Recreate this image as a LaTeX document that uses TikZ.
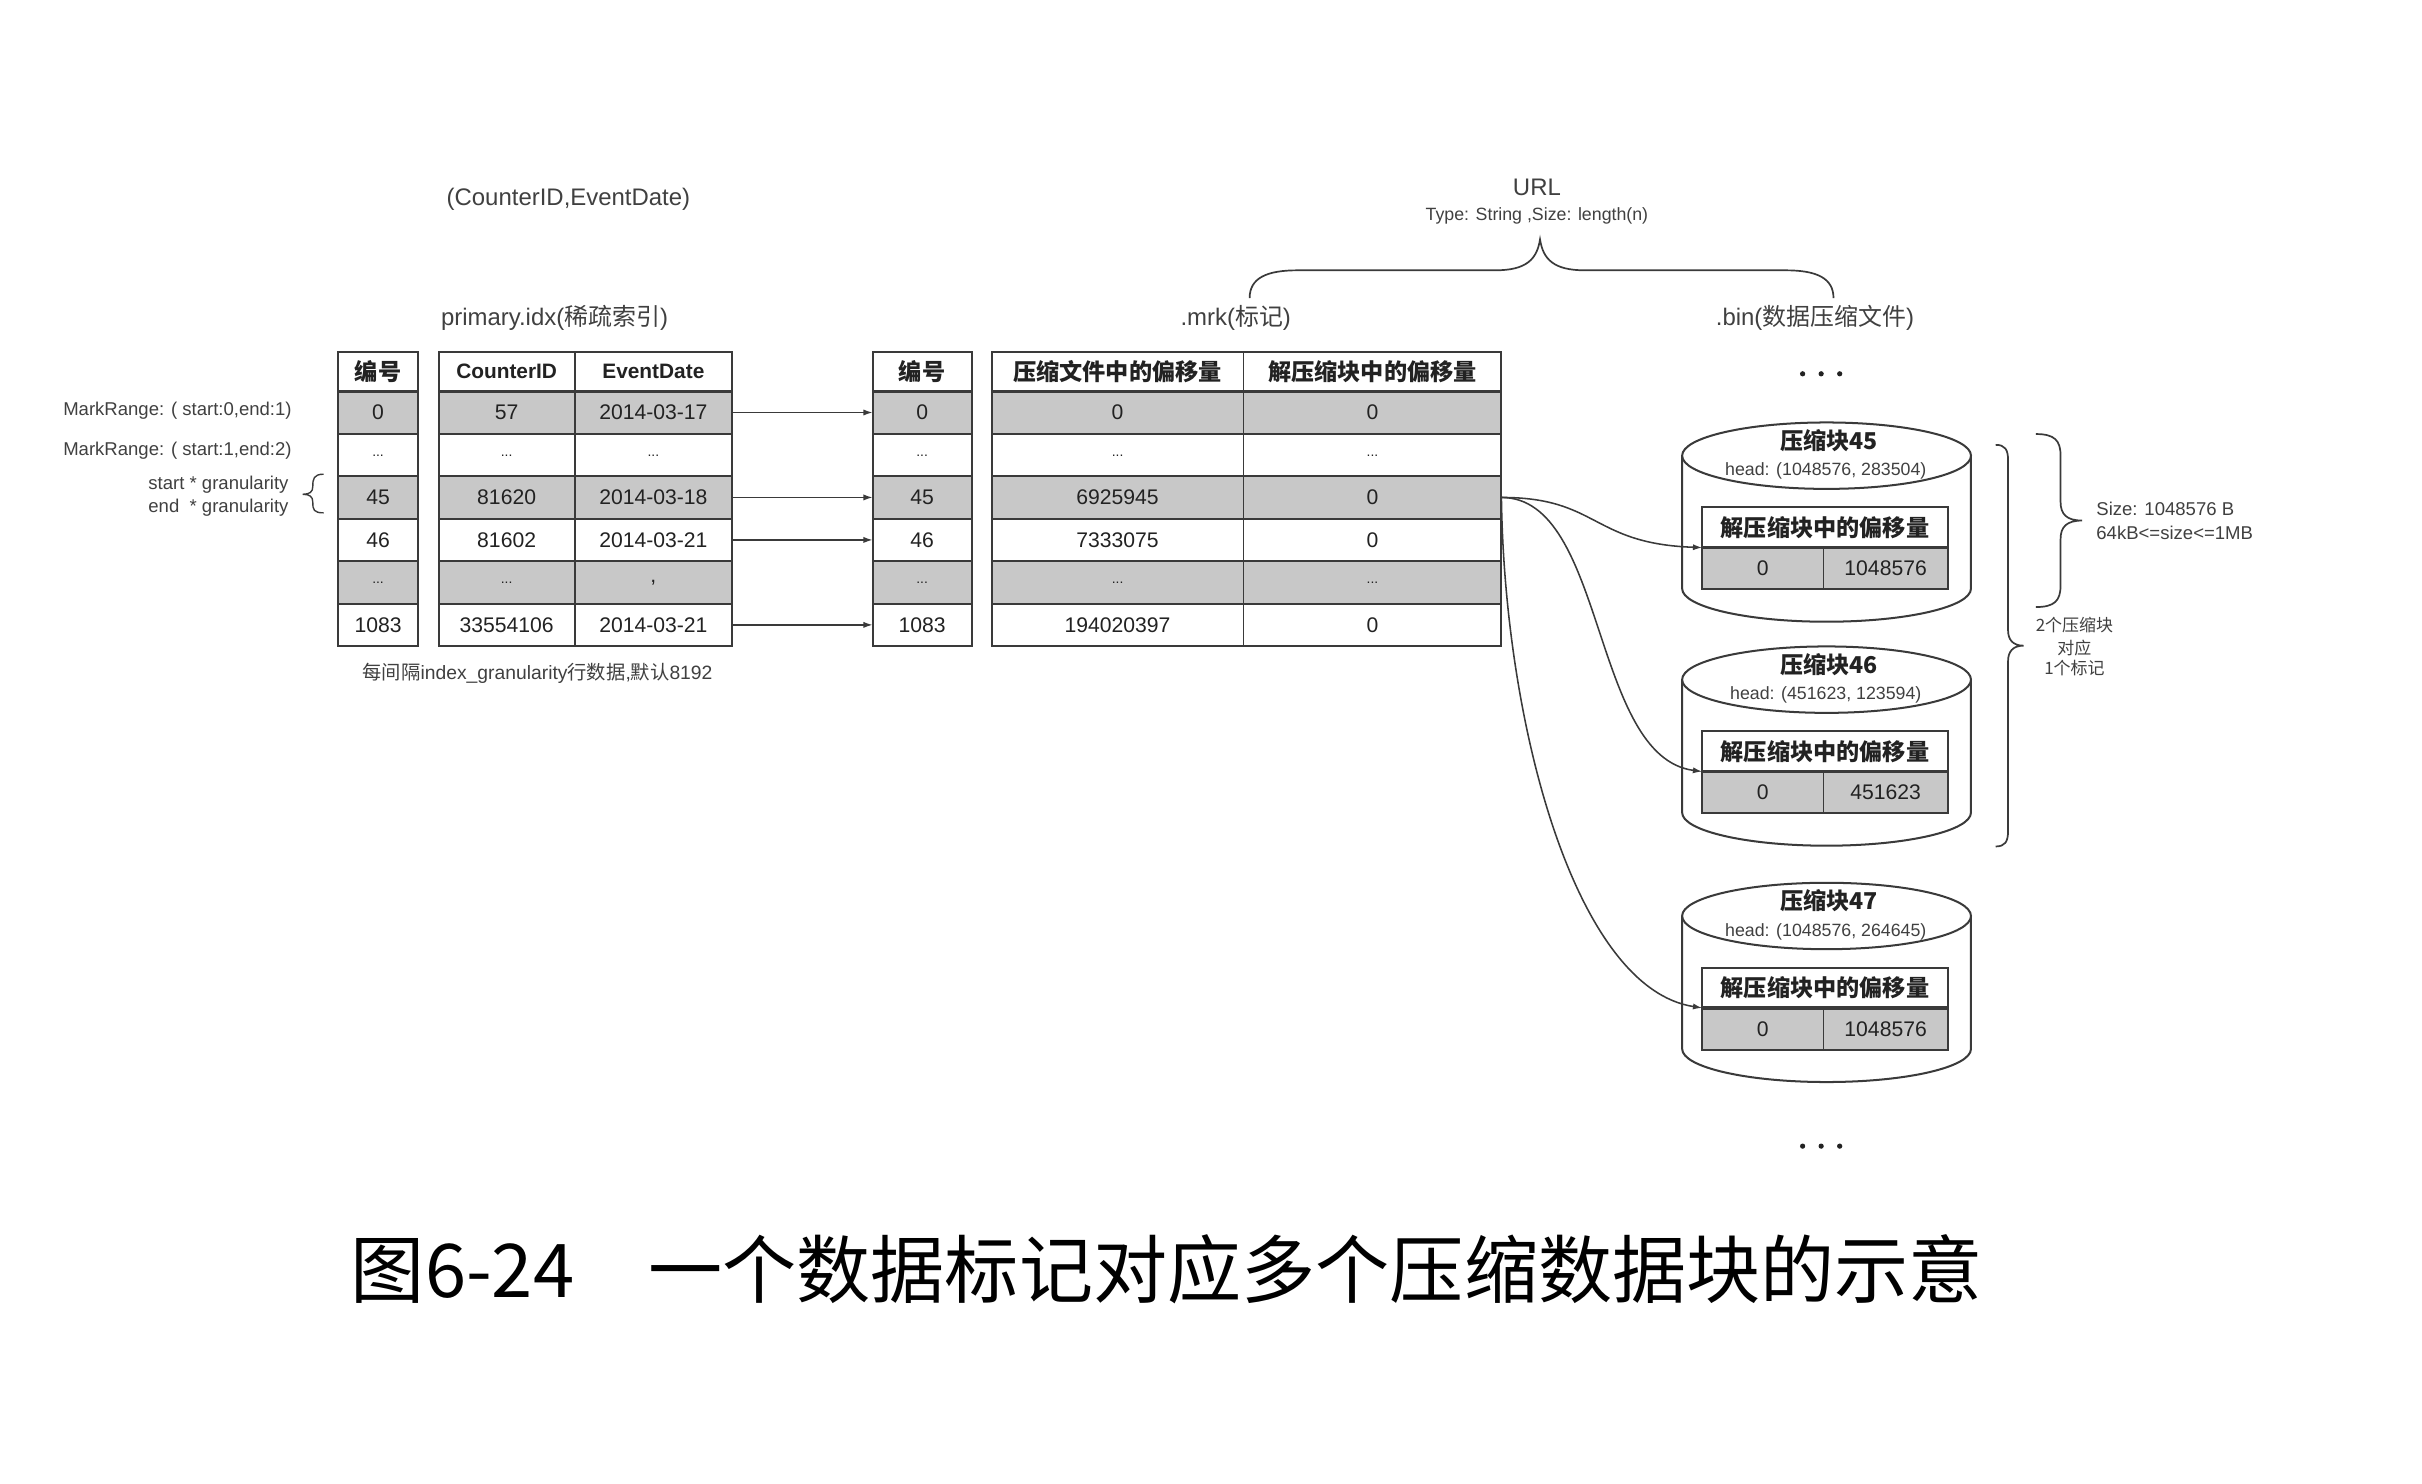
\documentclass[tikz,border=0pt]{standalone}
\usepackage{fontspec}
\setmainfont{Liberation Sans}
\newfontfamily\cjk{Noto Sans CJK SC}
\usetikzlibrary{arrows.meta}
\definecolor{linecol}{HTML}{3A3A3A}
\definecolor{rowgray}{RGB}{200,200,200}
\definecolor{txtcol}{HTML}{222222}
\definecolor{labcol}{HTML}{404040}
\newcommand\fsz[1]{\fontsize{#1}{#1}\selectfont}
\newcommand\tdots{\raisebox{-1.5pt}{\fsz{9}...}}
\newcommand\tcomma{,}
\tikzset{
 cell/.style={draw=linecol, line width=1.2pt, inner sep=0pt, outer sep=0pt, minimum height=27.5pt, text=txtcol, font=\fsz{13.7}},
 hcell/.style={cell, minimum height=25.3pt, font=\fsz{13.5}\bfseries},
 icell/.style={cell, minimum height=27pt},
 cylline/.style={draw=linecol, line width=1.3pt},
 conn/.style={draw=linecol, line width=1pt, -{Latex[length=6pt,width=4pt]}},
 lab/.style={text=labcol, font=\fsz{12}, inner sep=0pt},
 toplab/.style={text=labcol, font=\fsz{15.5}, inner sep=0pt},
 cyltitle/.style={text=txtcol, font=\fsz{15}\cjk\bfseries, inner sep=0pt},
 cylhead/.style={text=labcol, font=\fsz{11.5}, inner sep=0pt},
 bracel/.style={draw=linecol, line width=1.1pt},
}
\newcommand\mkcyl[5]{%
  \fill[white] (1089,#2) -- (1089,{#2+86}) arc[start angle=180,end angle=360,x radius=93.5pt,y radius=21.5pt] -- (1276,#2) -- cycle;
  \draw[cylline] (1089,#2) -- (1089,{#2+86}) arc[start angle=180,end angle=360,x radius=93.5pt,y radius=21.5pt] -- (1276,#2);
  \draw[cylline, fill=white] (1182.5,#2) ellipse[x radius=93.5pt,y radius=21.5pt];
  \node[cyltitle] (#1-t) at (1184,{#2-10}) {#3};
  \node[cylhead] (#1-hd) at (1182,{#2+10}) {#4};
  \node[icell, minimum width=159pt, minimum height=26pt] (#1-h) at (1181.5,{#2+46.5}) {\fsz{15}\cjk\bfseries 解压缩块中的偏移量};
  \node[icell, minimum width=78.5pt, fill=rowgray] (#1-a) at (1141.25,{#2+73}) {0};
  \node[icell, minimum width=80.5pt, fill=rowgray] (#1-b) at (1220.75,{#2+73}) {#5};
  \draw[linecol, line width=2.2pt] (#1-h.south west) -- (#1-h.south east);
}
\begin{document}
\begin{tikzpicture}[x=1pt,y=-1pt]
\useasboundingbox[fill=white] (0,0) rectangle (1568,960.7);

% top labels
\node[toplab] (ce) at (368,129) {(CounterID,EventDate)};
\node[toplab] (url) at (995,121) {URL};
\node[lab, font=\fsz{11.5}] (urltype) at (995,140) {Type: String ,Size: length(n)};
\node[toplab] (pidx) at (359,206) {primary.idx({\cjk 稀疏索引})};
\node[toplab] (mrk) at (800,206) {.mrk({\cjk 标记})};
\node[toplab] (bin) at (1175,206) {.bin({\cjk 数据压缩文件})};
\draw[bracel] (809,193) .. controls (809,180) and (820,175) .. (840,175) -- (968,175) .. controls (988,175) and (995,168) .. (997,155) .. controls (999,168) and (1006,175) .. (1026,175) -- (1156,175) .. controls (1176,175) and (1187,180) .. (1187,193);

% headers
\node[hcell, minimum width=51.5pt] (ta-h) at (244.75,240.65) {\fsz{15}\cjk 编号};
\node[hcell, minimum width=88pt] (tb-h1) at (328,240.65) {CounterID};
\node[hcell, minimum width=102pt] (tb-h2) at (423,240.65) {EventDate};
\node[hcell, minimum width=64pt] (tc-h) at (597,240.65) {\fsz{15}\cjk 编号};
\node[hcell, minimum width=163pt] (td-h1) at (723.5,240.65) {\fsz{15}\cjk 压缩文件中的偏移量};
\node[hcell, minimum width=167pt] (td-h2) at (888.5,240.65) {\fsz{15}\cjk 解压缩块中的偏移量};

\foreach \i/\a/\f in {0/0/rowgray,1/\tdots/white,2/45/rowgray,3/46/white,4/\tdots/rowgray,5/1083/white}{
  \node[cell, minimum width=51.5pt, fill=\f] (ta-\i) at (244.75,{267.05+27.5*\i}) {\a};
  \node[cell, minimum width=64pt, fill=\f] (tc-\i) at (597,{267.05+27.5*\i}) {\a};
}
\foreach \i/\a/\b/\f in {0/57/2014-03-17/rowgray,1/\tdots/\tdots/white,2/81620/2014-03-18/rowgray,3/81602/2014-03-21/white,4/\tdots/\tcomma/rowgray,5/33554106/2014-03-21/white}{
  \node[cell, minimum width=88pt, fill=\f] (tb-\i-1) at (328,{267.05+27.5*\i}) {\a};
  \node[cell, minimum width=102pt, fill=\f] (tb-\i-2) at (423,{267.05+27.5*\i}) {\b};
}
\foreach \i/\a/\b/\f in {0/0/0/rowgray,1/\tdots/\tdots/white,2/6925945/0/rowgray,3/7333075/0/white,4/\tdots/\tdots/rowgray,5/194020397/0/white}{
  \node[cell, minimum width=163pt, fill=\f] (td-\i-1) at (723.5,{267.05+27.5*\i}) {\a};
  \node[cell, minimum width=167pt, fill=\f] (td-\i-2) at (888.5,{267.05+27.5*\i}) {\b};
}
\foreach \n in {ta-h,tb-h1,tb-h2,tc-h,td-h1,td-h2}
  \draw[linecol, line width=2.2pt] (\n.south west) -- (\n.south east);

\foreach \i in {0,2,3,5}
  \draw[conn] (tb-\i-2.east) -- (tc-\i.west);

% left labels
\node[lab, anchor=east] (mr1) at (189,266) {MarkRange: ( start:0,end:1)};
\node[lab, anchor=east] (mr2) at (189,292) {MarkRange: ( start:1,end:2)};
\node[lab, anchor=east] (sg) at (187,313.7) {start * granularity};
\node[lab, anchor=east] (eg) at (187,328.8) {\rlap{end}\phantom{start} * granularity};
\draw[bracel, line width=0.9pt] (209.5,307) .. controls (203,307) and (202.5,310) .. (202.5,315) .. controls (202.5,318.5) and (200.5,320) .. (196,320) .. controls (200.5,320) and (202.5,321.5) .. (202.5,325) .. controls (202.5,330) and (203,332) .. (209.5,332);
\node[lab, font=\fsz{12.5}] (note) at (348,436) {{\cjk 每间隔}index\_granularity{\cjk 行数据},{\cjk 默认}8192};

% cylinders
\mkcyl{c45}{295}{压缩块45}{head: (1048576, 283504)}{1048576}
\mkcyl{c46}{440}{压缩块46}{head: (451623, 123594)}{451623}
\mkcyl{c47}{593}{压缩块47}{head: (1048576, 264645)}{1048576}

% connectors mrk -> blocks
\draw[conn] (td-2-2.east) .. controls (1035,322) and (1030,352) .. (c45-a.north west);
\draw[conn] (td-2-2.east) .. controls (1040,322) and (1030,490) .. (c46-a.north west);
\draw[conn] (td-2-2.east) .. controls (974,470) and (1020,640) .. (c47-a.north west);

% dots
\foreach \x in {1167,1179,1191}{
  \fill[txtcol] (\x,242) circle[radius=1.7pt];
  \fill[txtcol] (\x,742) circle[radius=1.7pt];
}

% right braces and labels
\draw[bracel] (1318,281) .. controls (1330,281) and (1334,285) .. (1334,295) -- (1334,325) .. controls (1334,333) and (1338,337) .. (1348,337) .. controls (1338,337) and (1334,341) .. (1334,349) -- (1334,379) .. controls (1334,389) and (1330,393) .. (1318,393);
\node[lab, anchor=west] (sz1) at (1357,329.5) {Size: 1048576 B};
\node[lab, anchor=west] (sz2) at (1357,345) {64kB<=size<=1MB};
\draw[bracel] (1292,288) .. controls (1298,288) and (1300,291) .. (1300,298) -- (1300,408) .. controls (1300,414) and (1303,418) .. (1310,418) .. controls (1303,418) and (1300,422) .. (1300,428) -- (1300,538) .. controls (1300,545) and (1298,548) .. (1292,548);
\node[lab, font=\fsz{11}\cjk] (n2a) at (1343,404.5) {2个压缩块};
\node[lab, font=\fsz{11}\cjk] (n2b) at (1343,419.5) {对应};
\node[lab, font=\fsz{11}\cjk] (n2c) at (1343,432.5) {1个标记};

% caption
\node[inner sep=0pt, text=black] (cap) at (755.5,822) {\fsz{48}\cjk 图6-24\hspace{1em}一个数据标记对应多个压缩数据块的示意};
\end{tikzpicture}
\end{document}
